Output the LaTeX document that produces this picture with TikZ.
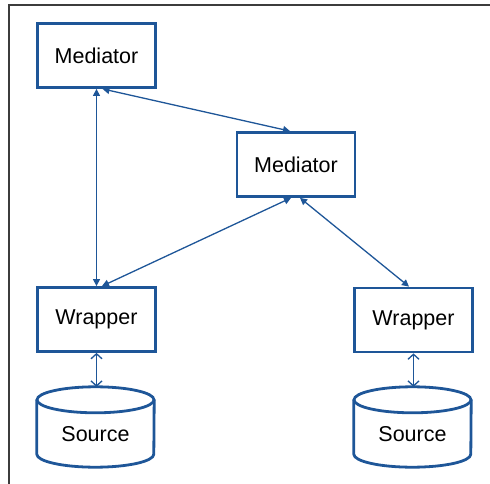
\documentclass[tikz,border=0pt]{standalone}
\usepackage{fontspec}
\setmainfont{Liberation Sans}
\usetikzlibrary{arrows.meta,calc}
\definecolor{boxblue}{RGB}{30,86,152}
\definecolor{framegray}{RGB}{60,60,60}
\begin{document}
\begin{tikzpicture}[x=1pt,y=-1pt,
  box/.style={draw=boxblue,line width=2.8pt,minimum width=118pt,minimum height=64pt,
    inner sep=0pt,font=\fontsize{21.5}{26}\selectfont},
  dbbox/.style={minimum width=117pt,minimum height=80pt,inner sep=0pt},
  link/.style={draw=boxblue,line width=1.3pt,
    {Triangle[length=7pt,width=7pt]}-{Triangle[length=7pt,width=7pt]}},
  dblink/.style={draw=boxblue,line width=1.3pt,
    {Straight Barb[length=5pt,width=11pt]}-{Straight Barb[length=5pt,width=11pt]}},
  dblabel/.style={font=\fontsize{21.5}{26}\selectfont}]
\useasboundingbox (0,0) rectangle (490,484);
% page frame
\draw[framegray,line width=1.2pt] (9,484) -- (9,5) -- (490,5);

% mediators and wrappers
\node[box] (m1) at (96.5,55.5) {Mediator};
\node[box] (m2) at (296,164.5) {Mediator};
\node[box] (w1) at (96.5,319.5) {Wrapper};
\node[box] (w2) at (413.5,320) {Wrapper};

% sources (cylinders)
\node[dbbox] (s1) at (95.5,427) {};
\node[dbbox] (s2) at (412.5,427) {};
\foreach \s in {s1,s2}{
  \draw[boxblue,line width=2.8pt]
    ($(\s.north)+(0,13)$) ellipse [x radius=58.5pt,y radius=13pt];
  \draw[boxblue,line width=2.8pt]
    ($(\s.north west)+(0,13)$) -- ($(\s.south west)+(0,-13)$)
    arc[start angle=180,end angle=360,x radius=58.5pt,y radius=13pt]
    -- ($(\s.north east)+(0,13)$);
}
\node[dblabel] (s1t) at (95.5,434) {Source};
\node[dblabel] (s2t) at (412.5,434) {Source};

% connectors
\draw[link] (m1.south) -- (m1.south |- w1.north);
\draw[link] ([xshift=6pt]m1.south) -- ([xshift=-6pt]m2.north);
\draw[link] ([xshift=-5pt]m2.south) -- ([xshift=5.5pt]w1.north);
\draw[link] ([xshift=4pt]m2.south) -- ([xshift=-4.5pt]w2.north);
\draw[dblink] (w1.south) -- (w1.south |- s1.north);
\draw[dblink] (w2.south) -- (w2.south |- s2.north);
\end{tikzpicture}
\end{document}
